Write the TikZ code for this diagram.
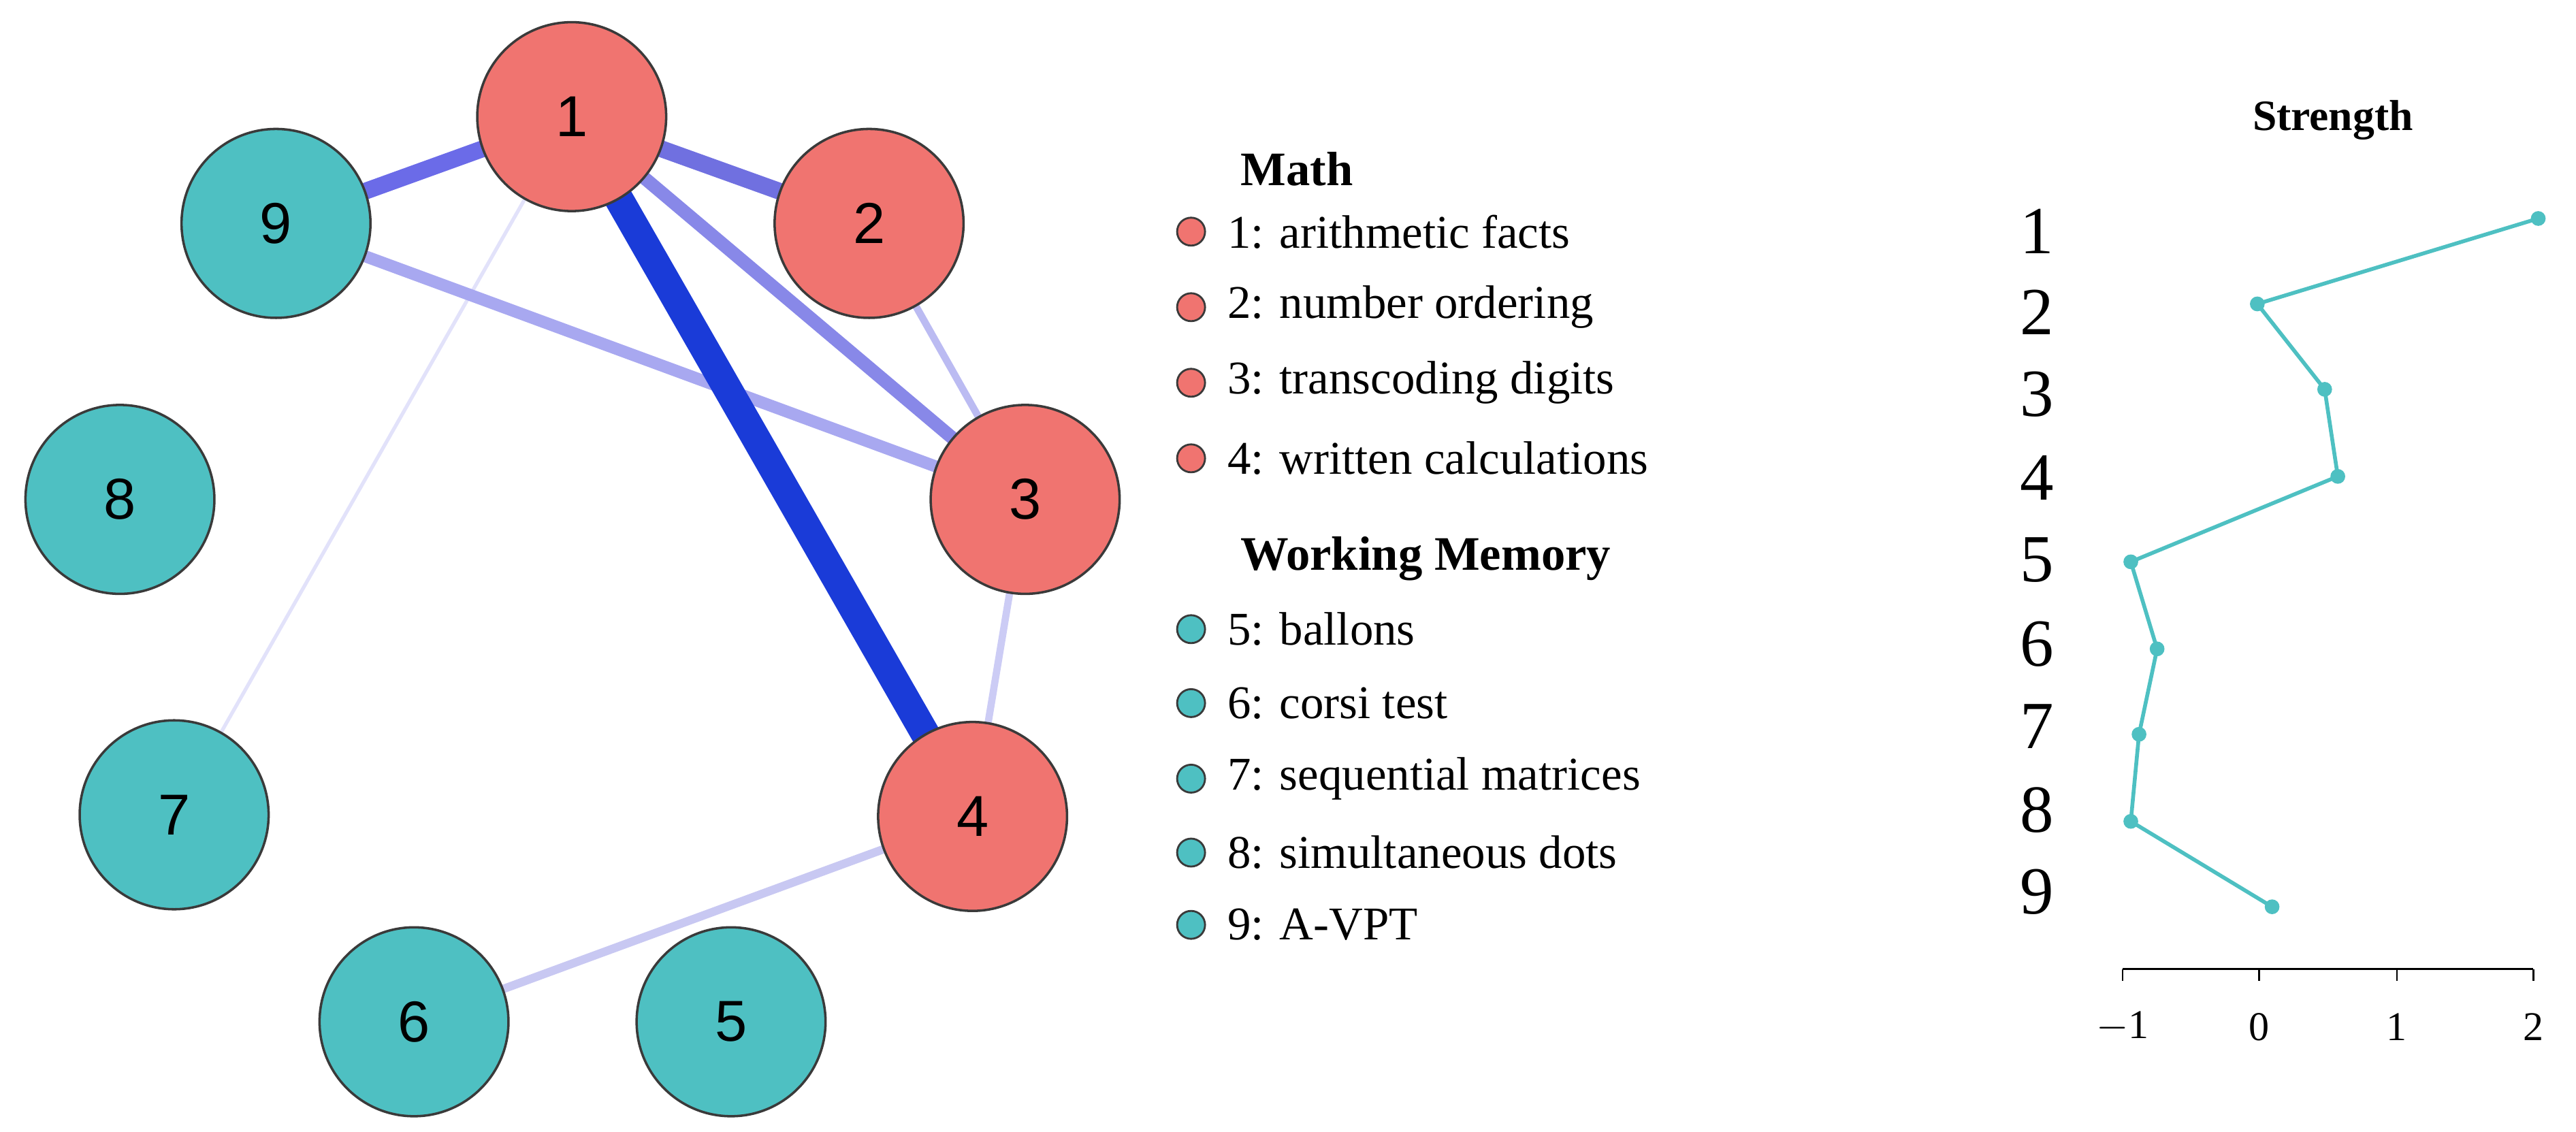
\documentclass[tikz,border=0pt]{standalone}
\usepackage{fontspec}
\setmainfont{Liberation Serif}
\newfontfamily\nodefont{Liberation Sans}
\usetikzlibrary{backgrounds}
\definecolor{mred}{HTML}{F07470}
\definecolor{wteal}{HTML}{4EC0C2}
\definecolor{edgeo}{HTML}{3A3A3A}
\begin{document}
\begin{tikzpicture}[x=0.024cm,y=-0.024cm,
  vert/.style={circle,draw=edgeo,line width=1pt,minimum size=115*0.024cm,inner sep=0pt,font=\nodefont\fontsize{24}{24}\selectfont},
  m/.style={vert,fill=mred},
  w/.style={vert,fill=wteal},
  bul/.style={circle,draw=edgeo,line width=0.8pt,minimum size=17*0.024cm,inner sep=0pt},
  leg/.style={anchor=west,font=\fontsize{19.5}{20}\selectfont},
  head/.style={anchor=west,font=\bfseries\fontsize{20}{20}\selectfont},
  ax/.style={font=\fontsize{28}{28}\selectfont},
  tk/.style={font=\fontsize{17}{17}\selectfont}]
\useasboundingbox (0,0) rectangle (1568,689);
\node[m] (n1) at (348,71) {1};
\node[w] (n9) at (168,136) {9};
\node[m] (n2) at (529,136) {2};
\node[w] (n8) at (73,304) {8};
\node[m] (n3) at (624,304) {3};
\node[w] (n7) at (106,496) {7};
\node[m] (n4) at (592,497) {4};
\node[w] (n6) at (252,622) {6};
\node[w] (n5) at (445,622) {5};
\begin{pgfonlayer}{background}
\draw[line width=1.5pt,color={rgb,255:red,226;green,226;blue,250}] (n1.center)--(n7.center);
\draw[line width=5pt,color={rgb,255:red,168;green,168;blue,240}] (n9.center)--(n3.center);
\draw[line width=3pt,color={rgb,255:red,187;green,187;blue,242}] (n2.center)--(n3.center);
\draw[line width=3pt,color={rgb,255:red,204;green,204;blue,245}] (n3.center)--(n4.center);
\draw[line width=3.5pt,color={rgb,255:red,200;green,200;blue,242}] (n4.center)--(n6.center);
\draw[line width=5.5pt,color={rgb,255:red,136;green,136;blue,232}] (n1.center)--(n3.center);
\draw[line width=7pt,color={rgb,255:red,112;green,112;blue,224}] (n1.center)--(n2.center);
\draw[line width=7pt,color={rgb,255:red,107;green,107;blue,232}] (n1.center)--(n9.center);
\draw[line width=12pt,color={rgb,255:red,26;green,59;blue,216}] (n1.center)--(n4.center);
\end{pgfonlayer}
% legend
\node[head] (hm) at (750,103) {Math};
\node[head] (hw) at (750,340) {Working Memory};
\foreach \i/\y/\t/\c in {1/141/{1: arithmetic facts}/mred,2/187/{2: number ordering}/mred,3/233/{3: transcoding digits}/mred,4/279/{4: written calculations}/mred,5/383/{5: ballons}/wteal,6/428/{6: corsi test}/wteal,7/474/{7: sequential matrices}/wteal,8/519/{8: simultaneous dots}/wteal,9/563/{9: A-VPT}/wteal}{
  \node[bul,fill=\c] (b\i) at (725,\y) {};
  \node[leg] (l\i) at (742,\y) {\t};
}
% strength
\node[font=\bfseries\fontsize{18}{18}\selectfont] (st) at (1420,73) {Strength};
\foreach \i/\y in {1/141,2/190,3/240,4/291,5/341,6/392,7/442,8/493,9/543}{
  \node[ax] (a\i) at (1240,\y) {\i};
}
\coordinate (p1) at (1545,133);
\coordinate (p2) at (1374,185);
\coordinate (p3) at (1415,237);
\coordinate (p4) at (1423,290);
\coordinate (p5) at (1297,342);
\coordinate (p6) at (1313,395);
\coordinate (p7) at (1302,447);
\coordinate (p8) at (1297,500);
\coordinate (p9) at (1383,552);
\draw[wteal,line width=1.6pt] (p1)--(p2)--(p3)--(p4)--(p5)--(p6)--(p7)--(p8)--(p9);
\foreach \i in {1,...,9}{\fill[wteal] (p\i) circle (4.5);}
\coordinate (xa) at (1292,590);
\coordinate (xb) at (1542,590);
\draw[line width=0.8pt] (xa)--(xb);
\foreach \v/\x in {{$-$1}/1292,0/1375,1/1459,2/1542}{
  \draw[line width=0.8pt] (\x,590)--(\x,597);
  \node[tk] at (\x,625) {\v};
}
\end{tikzpicture}
\end{document}
